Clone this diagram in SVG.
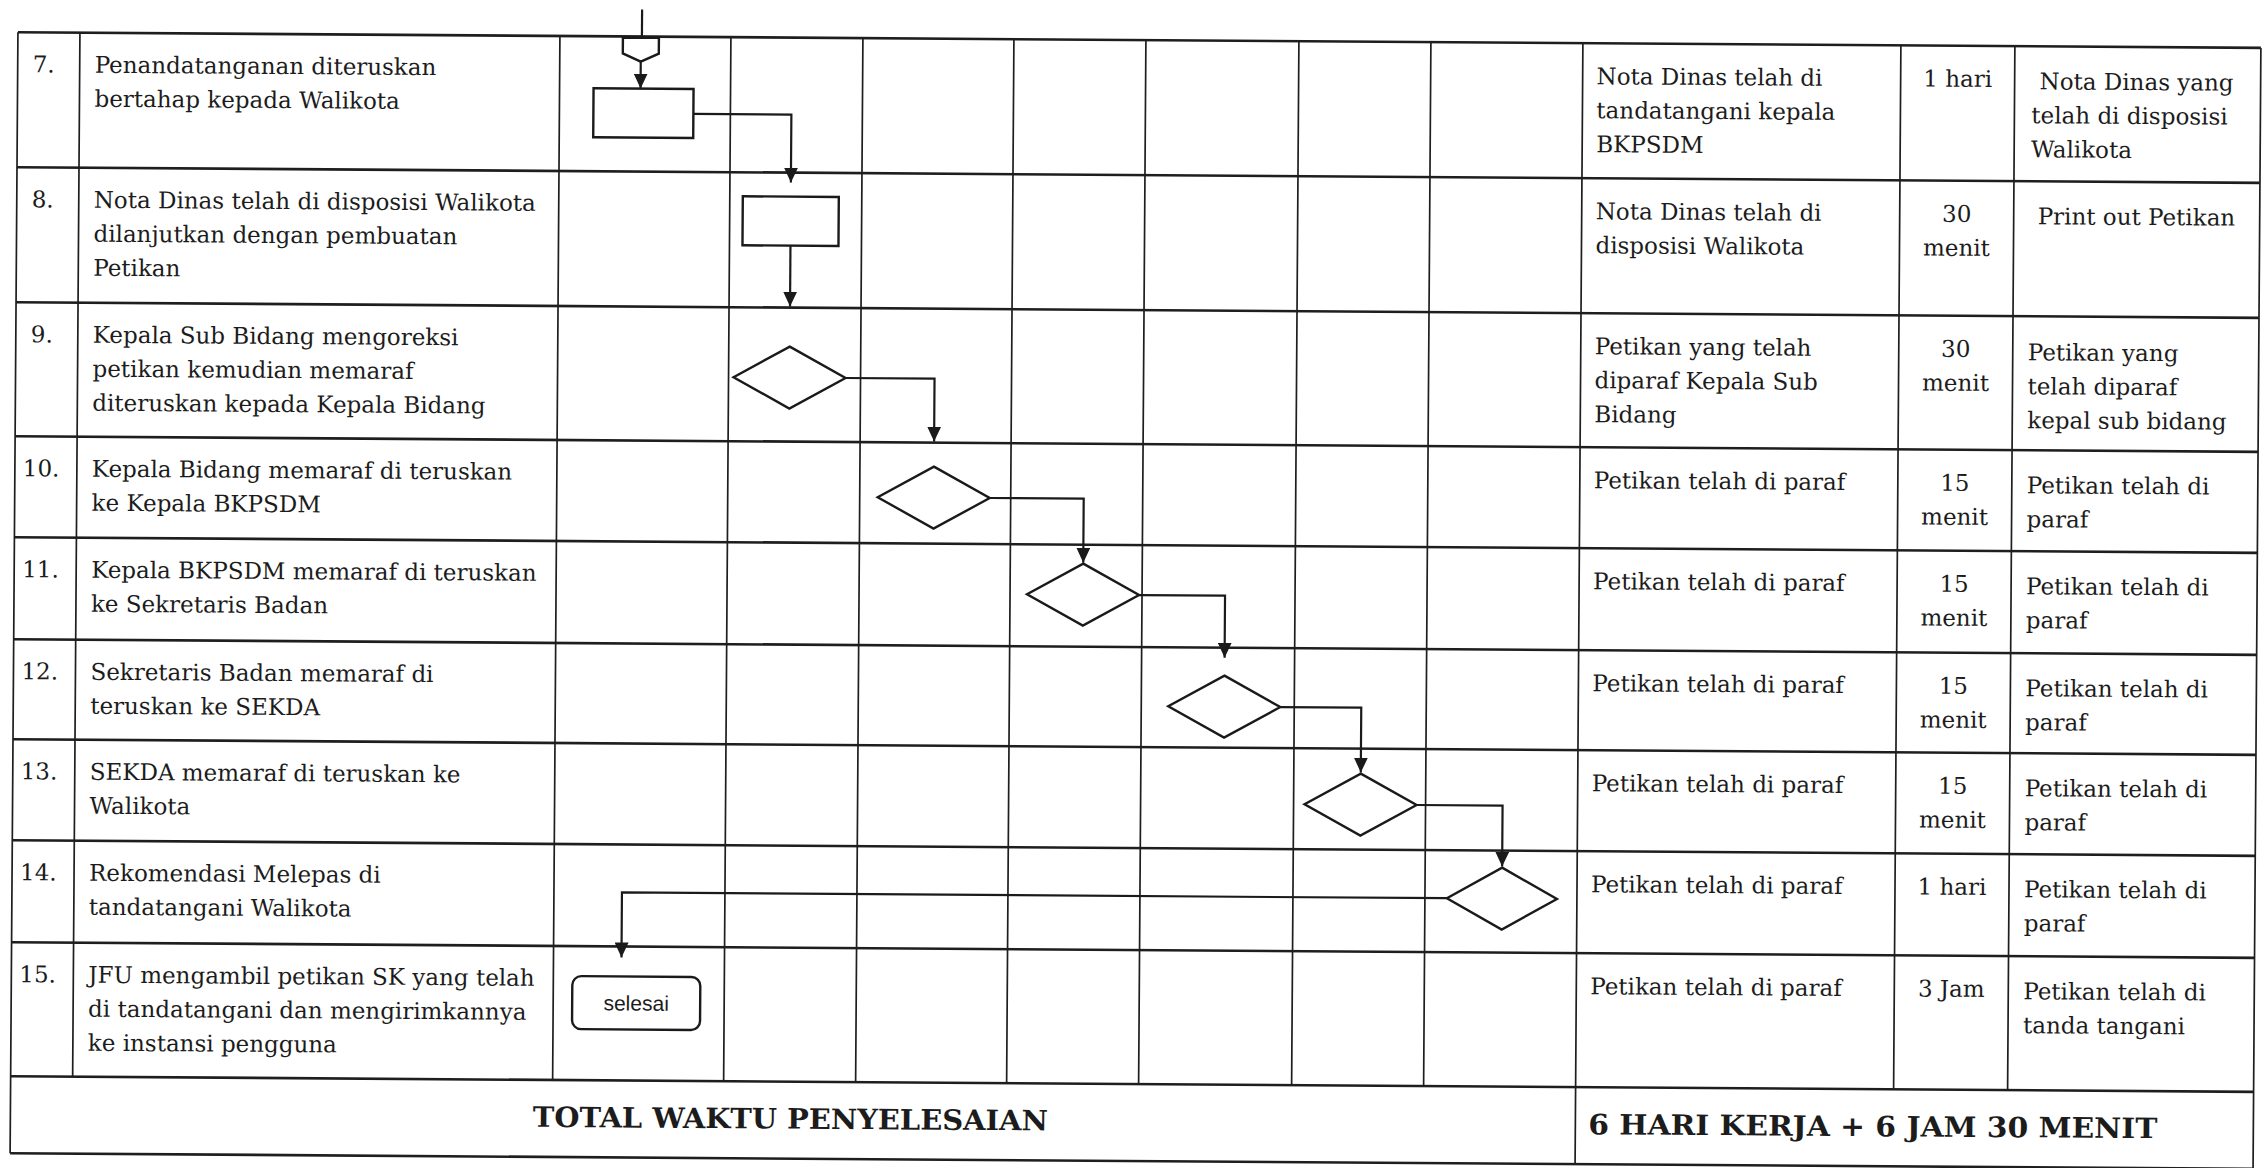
<svg xmlns="http://www.w3.org/2000/svg" width="2262" height="1168" viewBox="0 0 2262 1168">
<defs>
<style>
.gh{stroke:#1e1e1e;stroke-width:2.6;fill:none}
.gv{stroke:#1e1e1e;stroke-width:1.7;fill:none}
.shape{fill:#fff;stroke:#1a1a1a;stroke-width:2.4}
.conn{fill:none;stroke:#1a1a1a;stroke-width:2.2;marker-end:url(#arr)}
.line{fill:none;stroke:#1a1a1a;stroke-width:2.2}
.t{font-family:"DejaVu Serif","Liberation Serif",serif;font-size:23px;fill:#1c1c1c}
.m{text-anchor:middle}
.b{font-weight:bold;font-size:28px}
.s{font-family:"Liberation Sans",Arial,sans-serif;font-size:21px;fill:#1c1c1c;text-anchor:middle}
</style>
<marker id="arr" viewBox="0 0 15 14" refX="15" refY="7" markerWidth="15" markerHeight="14" markerUnits="userSpaceOnUse" orient="auto"><path d="M0,0 L15,7 L0,14 z" fill="#1a1a1a"/></marker>
</defs>
<rect width="2262" height="1168" fill="#fff"/>
<g transform="rotate(0.4 1131 600)">
<g id="table">
<path class="gh" d="M14,40H2257M14,175H2257M14,310H2257M14,444H2257M14,545H2257M14,647H2257M14,747H2257M14,848H2257M14,950H2257M14,1084H2257M14,1161H2257"/>
<path class="gv" d="M14,40V1161M76,40V1084M556,40V1084M727,40V1084M859,40V1084M1010,40V1084M1142,40V1084M1295,40V1084M1427,40V1084M1579,40V1161M1897,40V1084M2011,40V1084M2257,40V1161"/>
</g>
<g id="connectors">
<path class="line" d="M638,13V41"/>
<path class="conn" d="M637,65V92"/>
<path class="conn" d="M690,117H788V185"/>
<path class="conn" d="M788,248V309"/>
<path class="conn" d="M844,380H933V443"/>
<path class="conn" d="M989,499H1083V563"/>
<path class="conn" d="M1139,595H1225V657"/>
<path class="conn" d="M1281,706H1362V771"/>
<path class="conn" d="M1418,803H1504V864"/>
<path class="conn" d="M1449,896H624V961"/>
</g>
<g id="start-connector"><path class="shape" d="M619,41H655V57L637,65L619,57Z"/></g>
<g id="process-7"><rect class="shape" x="590" y="92" width="100" height="49"/></g>
<g id="process-8"><rect class="shape" x="740" y="199" width="96" height="49"/></g>
<g id="decision-9"><path class="shape" d="M788,349L844,380L788,411L732,380Z"/></g>
<g id="decision-10"><path class="shape" d="M933,468L989,499L933,530L877,499Z"/></g>
<g id="decision-11"><path class="shape" d="M1083,564L1139,595L1083,626L1027,595Z"/></g>
<g id="decision-12"><path class="shape" d="M1225,675L1281,706L1225,737L1169,706Z"/></g>
<g id="decision-13"><path class="shape" d="M1362,772L1418,803L1362,834L1306,803Z"/></g>
<g id="decision-14"><path class="shape" d="M1504,865L1559,896L1504,927L1449,896Z"/></g>
<g id="end-selesai"><rect class="shape" x="575" y="980" width="128" height="53" rx="9"/><text class="s" x="639" y="1014">selesai</text></g>

<g id="row7" class="t">
<text x="29" y="80">7.</text>
<text x="91" y="80">Penandatanganan diteruskan</text>
<text x="91" y="114">bertahap kepada Walikota</text>
<text x="1593" y="81">Nota Dinas telah di</text>
<text x="1593" y="115">tandatangani kepala</text>
<text x="1593" y="149">BKPSDM</text>
<text class="m" x="1954" y="81">1 hari</text>
<text x="2036" y="83">Nota Dinas yang</text>
<text x="2028" y="117">telah di disposisi</text>
<text x="2028" y="151">Walikota</text>
</g>
<g id="row8" class="t">
<text x="29" y="215">8.</text>
<text x="91" y="215">Nota Dinas telah di disposisi Walikota</text>
<text x="91" y="249">dilanjutkan dengan pembuatan</text>
<text x="91" y="283">Petikan</text>
<text x="1593" y="216">Nota Dinas telah di</text>
<text x="1593" y="250">disposisi Walikota</text>
<text class="m" x="1954" y="216">30</text>
<text class="m" x="1954" y="250">menit</text>
<text x="2035" y="218">Print out Petikan</text>
</g>
<g id="row9" class="t">
<text x="29" y="350">9.</text>
<text x="91" y="350">Kepala Sub Bidang mengoreksi</text>
<text x="91" y="384">petikan kemudian memaraf</text>
<text x="91" y="418">diteruskan kepada Kepala Bidang</text>
<text x="1593" y="351">Petikan yang telah</text>
<text x="1593" y="385">diparaf Kepala Sub</text>
<text x="1593" y="419">Bidang</text>
<text class="m" x="1954" y="351">30</text>
<text class="m" x="1954" y="385">menit</text>
<text x="2026" y="354">Petikan yang</text>
<text x="2026" y="388">telah diparaf</text>
<text x="2026" y="422">kepal sub bidang</text>
</g>
<g id="row10" class="t">
<text x="22" y="484">10.</text>
<text x="91" y="484">Kepala Bidang memaraf di teruskan</text>
<text x="91" y="518">ke Kepala BKPSDM</text>
<text x="1593" y="485">Petikan telah di paraf</text>
<text class="m" x="1954" y="485">15</text>
<text class="m" x="1954" y="519">menit</text>
<text x="2026" y="487">Petikan telah di</text>
<text x="2026" y="521">paraf</text>
</g>
<g id="row11" class="t">
<text x="22" y="585">11.</text>
<text x="91" y="585">Kepala BKPSDM memaraf di teruskan</text>
<text x="91" y="619">ke Sekretaris Badan</text>
<text x="1593" y="586">Petikan telah di paraf</text>
<text class="m" x="1954" y="586">15</text>
<text class="m" x="1954" y="620">menit</text>
<text x="2026" y="588">Petikan telah di</text>
<text x="2026" y="622">paraf</text>
</g>
<g id="row12" class="t">
<text x="22" y="687">12.</text>
<text x="91" y="687">Sekretaris Badan memaraf di</text>
<text x="91" y="721">teruskan ke SEKDA</text>
<text x="1593" y="688">Petikan telah di paraf</text>
<text class="m" x="1954" y="688">15</text>
<text class="m" x="1954" y="722">menit</text>
<text x="2026" y="690">Petikan telah di</text>
<text x="2026" y="724">paraf</text>
</g>
<g id="row13" class="t">
<text x="22" y="787">13.</text>
<text x="91" y="787">SEKDA memaraf di teruskan ke</text>
<text x="91" y="821">Walikota</text>
<text x="1593" y="788">Petikan telah di paraf</text>
<text class="m" x="1954" y="788">15</text>
<text class="m" x="1954" y="822">menit</text>
<text x="2026" y="790">Petikan telah di</text>
<text x="2026" y="824">paraf</text>
</g>
<g id="row14" class="t">
<text x="22" y="888">14.</text>
<text x="91" y="888">Rekomendasi Melepas di</text>
<text x="91" y="922">tandatangani Walikota</text>
<text x="1593" y="889">Petikan telah di paraf</text>
<text class="m" x="1954" y="889">1 hari</text>
<text x="2026" y="891">Petikan telah di</text>
<text x="2026" y="925">paraf</text>
</g>
<g id="row15" class="t">
<text x="22" y="990">15.</text>
<text x="91" y="990">JFU mengambil petikan SK yang telah</text>
<text x="91" y="1024">di tandatangani dan mengirimkannya</text>
<text x="91" y="1058">ke instansi pengguna</text>
<text x="1593" y="991">Petikan telah di paraf</text>
<text class="m" x="1954" y="991">3 Jam</text>
<text x="2026" y="993">Petikan telah di</text>
<text x="2026" y="1027">tanda tangani</text>
</g>
<g id="total" class="t">
<text class="b m" x="794" y="1131" textLength="515" lengthAdjust="spacingAndGlyphs">TOTAL WAKTU PENYELESAIAN</text>
<text class="b" x="1592" y="1131" textLength="569" lengthAdjust="spacingAndGlyphs">6 HARI KERJA + 6 JAM 30 MENIT</text>
</g>
</g>
</svg>
